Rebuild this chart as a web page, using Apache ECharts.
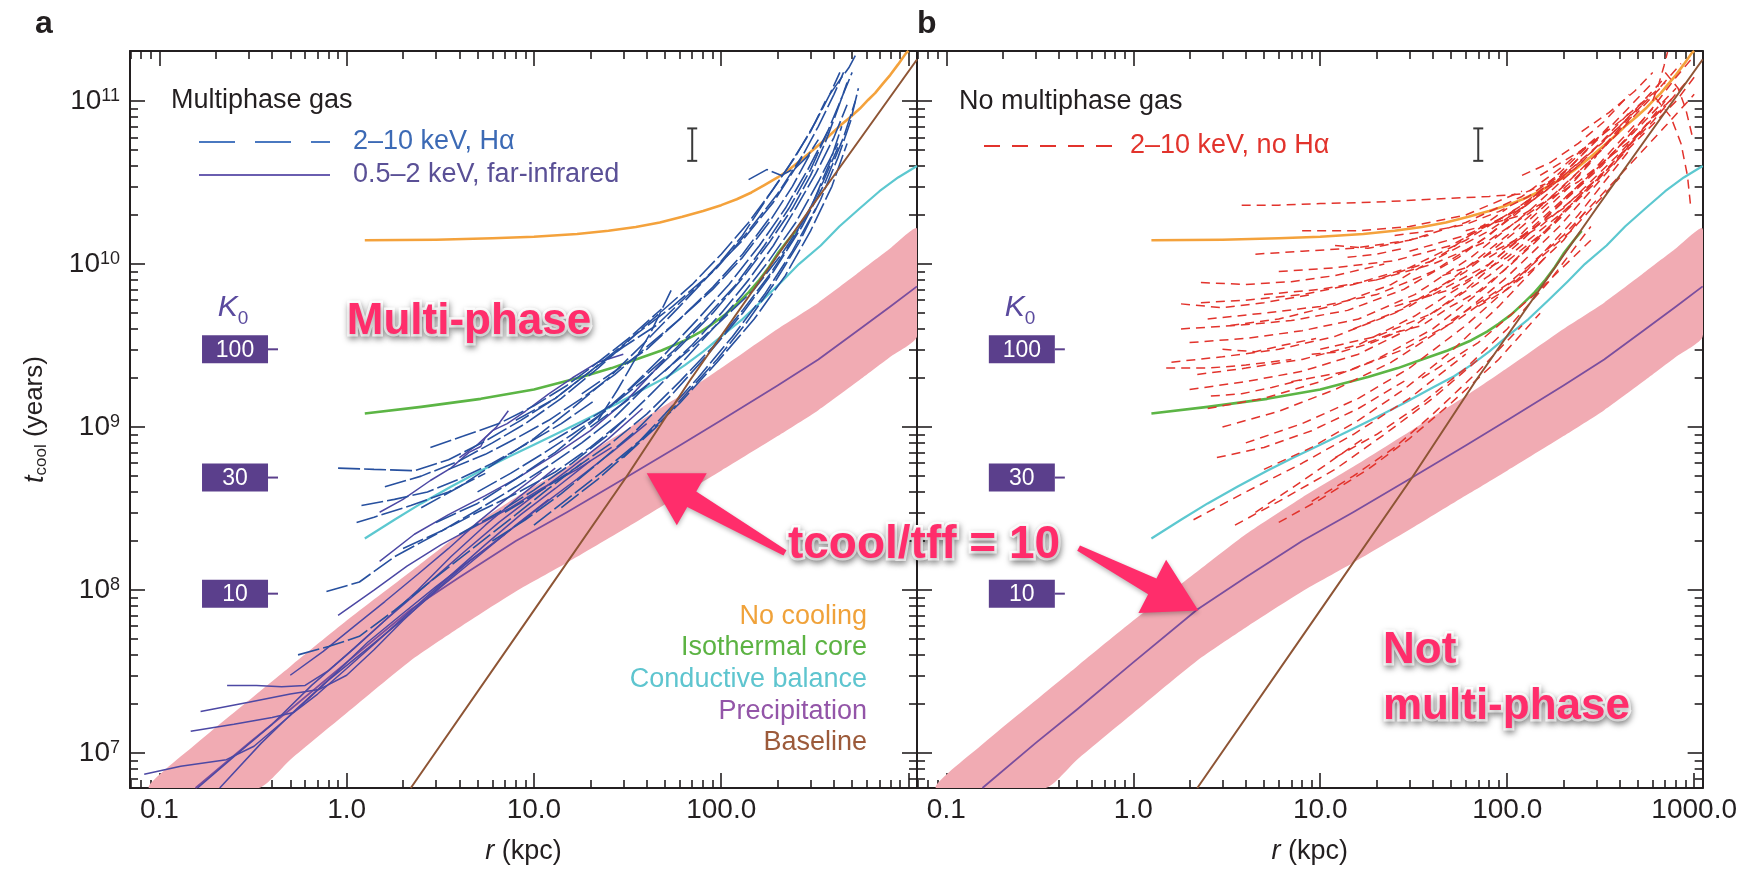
<!DOCTYPE html>
<html>
<head>
<meta charset="utf-8">
<title>Cooling time profiles</title>
<script src="https://cdn.jsdelivr.net/npm/echarts@6.0.0/dist/echarts.min.js"></script>
<style>
  html, body { margin: 0; padding: 0; background: #fff; }
  #chart { width: 1740px; height: 872px; }
</style>
</head>
<body>
<div id="chart"></div>
<script>
// ticks
const xMajor = [0.1, 1, 10, 100, 1000];
const xMinor = [0.07, 0.08, 0.09, 0.2, 0.3, 0.4, 0.5, 0.6, 0.7, 0.8, 0.9, 2, 3, 4, 5, 6, 7, 8, 9,
  20, 30, 40, 50, 60, 70, 80, 90, 200, 300, 400, 500, 600, 700, 800, 900];
const xLabelsA = [0.1, 1, 10, 100];
const xLabelsB = [0.1, 1, 10, 100, 1000];
const yMajor = [1e7, 1e8, 1e9, 1e10, 1e11];
const yMinor = [7e6, 8e6, 9e6, 2e7, 3e7, 4e7, 5e7, 6e7, 7e7, 8e7, 9e7, 2e8, 3e8, 4e8, 5e8, 6e8, 7e8, 8e8, 9e8,
  2e9, 3e9, 4e9, 5e9, 6e9, 7e9, 8e9, 9e9, 2e10, 3e10, 4e10, 5e10, 6e10, 7e10, 8e10, 9e10];

// model curves (r in kpc, t_cool in yr)
const noCooling = [[1.25, 1.40e10], [3, 1.41e10], [6, 1.44e10], [10, 1.47e10], [17, 1.53e10], [25, 1.6e10],
  [35, 1.69e10], [47, 1.8e10], [62, 1.95e10], [80, 2.12e10], [100, 2.3e10], [121, 2.5e10], [145, 2.75e10],
  [170, 3.05e10], [200, 3.4e10], [227, 3.75e10], [270, 4.4e10], [320, 5.2e10], [370, 6.0e10], [427, 7.0e10],
  [490, 8.0e10], [550, 9.0e10], [610, 1.02e11], [663, 1.12e11], [730, 1.28e11], [800, 1.45e11],
  [880, 1.68e11], [970, 1.97e11], [1000, 2.03e11]];
const isothermalCore = [[1.25, 1.21e9], [2.5, 1.33e9], [5.2, 1.49e9], [10, 1.7e9], [18, 2.03e9], [26, 2.3e9],
  [35, 2.6e9], [48, 2.95e9], [64, 3.4e9], [78, 3.85e9], [90, 4.3e9], [105, 4.9e9], [121, 5.7e9], [140, 6.7e9],
  [160, 8.0e9], [180, 9.6e9], [200, 1.16e10], [225, 1.38e10], [250, 1.6e10]];
const conductive = [[1.25, 2.07e8], [1.8, 2.7e8], [2.5, 3.4e8], [3.6, 4.3e8], [5.2, 5.4e8], [7.2, 6.5e8],
  [10, 7.8e8], [14, 9.4e8], [20, 1.15e9], [28, 1.4e9], [40, 1.75e9], [52, 2.05e9], [64, 2.4e9], [80, 2.9e9],
  [100, 3.6e9], [130, 4.6e9], [166, 6.0e9], [210, 7.8e9], [260, 1.0e10], [340, 1.3e10], [427, 1.7e10],
  [550, 2.2e10], [700, 2.8e10], [880, 3.4e10], [1110, 4.0e10]];
const precipitation = [[0.156, 6.1e6], [0.3, 1.15e7], [0.5, 1.85e7], [1, 3.6e7], [2.2, 7.6e7], [4, 1.2e8],
  [8, 2.0e8], [15, 3.0e8], [31, 4.9e8], [60, 7.7e8], [100, 1.1e9], [200, 1.8e9], [330, 2.6e9], [550, 4.0e9],
  [800, 5.5e9], [1110, 7.3e9]];
const bandUpper = [[0.088, 6.1e6], [0.156, 1.13e7], [0.3, 2.1e7], [0.5, 3.4e7], [1, 6.5e7], [2.2, 1.3e8],
  [4, 2.2e8], [8, 3.7e8], [15, 5.7e8], [31, 9.6e8], [60, 1.55e9], [100, 2.3e9], [200, 4.0e9], [330, 5.8e9],
  [550, 9.0e9], [800, 1.25e10], [1110, 1.65e10]];
const bandLower = [[0.34, 6.1e6], [0.5, 9.1e6], [1, 1.76e7], [2.2, 3.7e7], [4, 5.9e7], [8, 9.8e7], [15, 1.47e8],
  [31, 2.4e8], [60, 3.8e8], [100, 5.4e8], [200, 8.8e8], [330, 1.27e9], [550, 1.95e9], [800, 2.7e9], [1110, 3.6e9]];
const baseline = [[2.2, 6.1e6], [10, 7.5e7], [31, 4.9e8], [68, 1.93e9], [300, 2.2e10], [1110, 1.8e11]];

// K0 markers and error bar
const k0Labels = ['100', '30', '10'];
const k0Times = [3.0e9, 4.9e8, 9.5e7];
const errBar = [[70, 4.3e10, 6.8e10]];

// panel a: multiphase gas, 2-10 keV H-alpha (dashed)
const hardLines = [
  [[2.5, 3.2e8], [4, 4.3e8], [6.5, 6.2e8], [10, 8.5e8], [16, 1.3e9], [25, 2.0e9], [40, 3.4e9], [60, 5.5e9], [90, 9e9], [130, 1.5e10], [170, 2.4e10], [230, 4.0e10], [300, 6.5e10], [360, 1.0e11]],
  [[3, 2.6e8], [5, 3.4e8], [8, 4.8e8], [13, 7e8], [20, 1.05e9], [32, 1.7e9], [50, 2.8e9], [75, 4.6e9], [110, 7.5e9], [160, 1.3e10], [220, 2.2e10], [290, 3.8e10], [370, 6.5e10], [440, 1.05e11], [500, 1.5e11]],
  [[4, 2.2e8], [6.5, 3.0e8], [10, 4.1e8], [16, 6e8], [25, 9e8], [40, 1.5e9], [60, 2.4e9], [90, 4e9], [130, 6.5e9], [180, 1.05e10], [250, 1.8e10], [330, 3.2e10], [420, 5.5e10]],
  [[6, 2.0e8], [9, 2.7e8], [14, 3.9e8], [22, 6e8], [35, 9.5e8], [55, 1.6e9], [85, 2.8e9], [130, 5e9], [190, 9e9], [270, 1.7e10], [360, 3.2e10], [450, 6e10], [520, 1.0e11]],
  [[10, 2.5e8], [15, 3.6e8], [24, 5.5e8], [38, 8.5e8], [60, 1.4e9], [95, 2.5e9], [150, 4.6e9], [220, 8.5e9], [300, 1.6e10], [390, 3.0e10], [470, 5.5e10]],
  [[14, 3.2e8], [22, 4.8e8], [34, 7.5e8], [50, 1.2e9], [75, 2e9], [115, 3.6e9], [170, 6.5e9], [240, 1.2e10], [320, 2.2e10]],
  [[1.6, 4.3e8], [2.5, 5.0e8], [4, 6.2e8], [6, 8e8], [9, 1.05e9], [14, 1.5e9], [22, 2.3e9], [35, 3.7e9], [55, 5.5e9], [85, 8.5e9], [130, 1.4e10], [190, 2.4e10], [260, 4.2e10], [330, 7e10], [400, 1.1e11], [450, 1.5e11]],
  [[0.9, 5.6e8], [1.4, 5.5e8], [2.3, 5.4e8], [3.5, 6.3e8], [5.5, 8.2e8], [8.5, 1.1e9], [13, 1.5e9], [20, 2.2e9], [30, 3.1e9], [45, 4.2e9], [65, 6.3e9], [95, 9.5e9], [140, 1.6e10], [200, 2.7e10], [270, 4.6e10]],
  [[0.78, 9.8e7], [1.17, 1.12e8], [1.8, 1.6e8], [3, 2.2e8], [5, 3.1e8], [8, 4.3e8], [12, 5.8e8], [18, 8e8], [27, 1.15e9], [40, 1.8e9]],
  [[0.55, 4.0e7], [0.8, 4.5e7], [1.17, 5.2e7], [1.8, 7.5e7], [3, 1.2e8], [5, 1.9e8], [8, 2.9e8], [12, 4.2e8], [18, 6e8]],
  [[1.13, 2.6e8], [1.4, 2.8e8], [2.2, 3.3e8], [3.5, 4.0e8], [5.5, 5.2e8]],
  [[22, 1.1e9], [28, 1.7e9], [34, 2.5e9], [42, 3.8e9], [54, 6.9e9]],
  [[8, 1.1e9], [13, 1.5e9], [20, 2.2e9], [30, 3.2e9], [45, 4.8e9], [70, 7.5e9], [100, 1.15e10], [140, 1.8e10], [190, 2.9e10], [250, 4.6e10], [320, 7.5e10], [380, 1.1e11], [430, 1.5e11]],
  [[380, 1.1e11], [430, 1.35e11], [480, 1.6e11], [520, 1.9e11]],
  [[140, 3.3e10], [175, 3.8e10], [210, 3.5e10], [250, 3.9e10], [290, 4.6e10], [330, 5.8e10]],
  [[30, 6.5e8], [45, 1.0e9], [65, 1.6e9], [95, 2.6e9], [135, 4.3e9], [190, 7.5e9], [260, 1.35e10], [340, 2.5e10], [420, 4.5e10], [490, 7.5e10], [540, 1.2e11]],
  [[18, 1.6e9], [27, 2.2e9], [40, 3.0e9], [60, 4.6e9], [90, 7e9], [130, 1.1e10], [180, 1.8e10], [240, 3.0e10], [300, 4.8e10]],
  [[50, 2.2e9], [70, 3.2e9], [100, 5e9], [140, 8e9], [190, 1.3e10], [250, 2.2e10], [320, 3.6e10], [400, 6e10], [470, 9.5e10]],
  [[2, 1.8e8], [3.2, 2.3e8], [5, 3.0e8], [8, 3.9e8], [13, 5.3e8], [20, 7.5e8], [30, 1.1e9]],
  [[3.5, 5.5e8], [5.5, 6.8e8], [8, 8.5e8], [12, 1.1e9], [18, 1.5e9], [27, 2.1e9], [40, 3.1e9], [60, 4.6e9], [90, 7.2e9], [130, 1.15e10], [180, 1.9e10]],
  [[5, 4.0e8], [7.5, 5.2e8], [11, 6.8e8], [16, 9e8], [24, 1.25e9], [36, 1.9e9], [55, 2.9e9], [80, 4.5e9], [120, 7.5e9], [170, 1.3e10], [230, 2.2e10], [300, 3.8e10], [370, 6.5e10]],
  [[7, 3.0e8], [11, 4.1e8], [17, 5.7e8], [26, 8e8], [40, 1.2e9], [60, 1.9e9], [90, 3.1e9], [130, 5.2e9], [180, 8.5e9], [240, 1.4e10], [310, 2.4e10], [380, 4.2e10], [440, 7e10]],
  [[2.8, 7.5e8], [4.2, 8.8e8], [6.5, 1.05e9], [10, 1.35e9], [15, 1.8e9], [22, 2.5e9], [32, 3.5e9], [48, 5.3e9]],
  [[12, 8e8], [18, 1.05e9], [27, 1.4e9], [40, 2.0e9], [60, 3.1e9], [90, 5e9], [130, 8.2e9], [180, 1.35e10], [240, 2.2e10], [300, 3.5e10], [360, 5.6e10], [420, 9e10], [470, 1.3e11]],
  [[20, 1.0e9], [30, 1.4e9], [45, 2.0e9], [68, 3.0e9], [100, 4.5e9], [150, 7e9], [210, 1.15e10], [280, 1.9e10], [350, 3.2e10], [420, 5.2e10]],
  [[1.2, 3.3e8], [1.8, 3.6e8], [2.7, 4.0e8], [4, 4.8e8], [6, 6e8], [9, 7.8e8], [14, 1.05e9], [21, 1.45e9]]
];

// panel a: multiphase gas, 0.5-2 keV far-infrared (solid)
const softLines = [
  [[0.083, 7.4e6], [0.13, 8.3e6], [0.228, 9.1e6], [0.32, 1.1e7], [0.5, 1.7e7], [0.8, 2.8e7], [1.3, 4.4e7], [2, 6.6e7], [3.2, 1.05e8], [5, 1.6e8], [8, 2.5e8], [12, 3.6e8]],
  [[0.147, 1.36e7], [0.25, 1.5e7], [0.4, 1.65e7], [0.52, 1.77e7], [0.7, 2.3e7], [1, 3.3e7], [1.5, 5e7], [2.3, 7.8e7], [3.5, 1.2e8], [5.5, 1.9e8], [8.5, 2.9e8], [13, 4.2e8], [20, 6.2e8]],
  [[0.166, 1.8e7], [0.3, 2.05e7], [0.5, 2.3e7], [0.71, 2.45e7], [1, 3.0e7], [1.4, 4.3e7], [2, 6.5e7], [3, 1.0e8], [4.5, 1.5e8], [7, 2.2e8]],
  [[0.23, 2.6e7], [0.33, 2.6e7], [0.45, 2.55e7], [0.6, 2.6e7], [0.8, 3.2e7], [1.1, 4.4e7], [1.6, 6.5e7], [2.4, 1.0e8], [3.6, 1.6e8], [5.5, 2.5e8], [8.5, 3.8e8], [13, 5.6e8]],
  [[0.16, 6.1e6], [0.25, 9.5e6], [0.4, 1.5e7], [0.65, 2.6e7], [1, 4.0e7], [1.6, 6.5e7], [2.6, 1.05e8], [4.2, 1.7e8], [6.5, 2.6e8], [10, 3.8e8], [16, 5.7e8], [25, 8.5e8], [38, 1.3e9]],
  [[0.21, 6.1e6], [0.35, 1.15e7], [0.55, 1.9e7], [0.85, 3.0e7], [1.3, 4.8e7], [2, 7.2e7], [3, 1.05e8], [4.5, 1.5e8], [7, 2.2e8], [11, 3.3e8], [17, 4.8e8], [26, 7e8], [40, 1.05e9]],
  [[0.5, 3.0e7], [0.75, 4.2e7], [1.1, 6e7], [1.6, 8.5e7], [2.4, 1.25e8], [3.5, 1.8e8], [5, 2.6e8], [7.5, 3.8e8], [11, 5.3e8]],
  [[1.5, 3.0e8], [2, 3.6e8], [2.8, 4.7e8], [3.6, 5.6e8], [4.5, 7e8], [5.2, 7.6e8], [5.5, 8.6e8], [6.3, 1.0e9], [7.3, 1.26e9]],
  [[4, 6.5e8], [5, 7.8e8], [6, 9.5e8], [7.2, 1.05e9], [9, 1.25e9], [12, 1.6e9], [16, 2.0e9], [22, 2.5e9], [30, 2.8e9]],
  [[1.5, 1.5e8], [2.3, 2.2e8], [3.5, 2.9e8], [5.5, 3.8e8], [8.5, 5.0e8], [13, 6.8e8], [20, 9.5e8], [32, 1.5e9], [50, 2.6e9]],
  [[0.9, 7.0e7], [1.4, 1.0e8], [2.1, 1.4e8], [3.2, 1.9e8], [5, 2.5e8], [7.5, 3.2e8], [11, 4.2e8], [17, 5.5e8], [26, 7.5e8]]
];

// panel b: no multiphase gas, 2-10 keV, no H-alpha (dashed)
const noMultiLines = [
  [[3.8, 2.3e10], [6, 2.3e10], [10, 2.35e10], [20, 2.4e10], [40, 2.5e10], [80, 2.6e10], [120, 2.7e10], [160, 3.1e10]],
  [[4.5, 1.15e10], [8, 1.2e10], [15, 1.25e10], [30, 1.4e10], [60, 1.8e10], [120, 2.6e10], [200, 4.0e10], [300, 6.0e10]],
  [[2.3, 5.8e9], [4, 6.0e9], [8, 6.5e9], [15, 7.5e9], [30, 9.5e9], [60, 1.4e10], [120, 2.3e10], [220, 4.0e10], [350, 7.0e10]],
  [[2.5, 4.6e9], [5, 5.0e9], [10, 5.5e9], [20, 6.5e9], [40, 9.0e9], [80, 1.5e10], [150, 2.8e10], [280, 5.5e10]],
  [[1.8, 4.0e9], [3.5, 4.2e9], [7, 4.5e9], [14, 5.2e9], [28, 7.0e9], [55, 1.1e10], [110, 2.0e10], [200, 3.6e10], [350, 6.8e10], [600, 1.3e11]],
  [[2, 3.3e9], [4, 3.5e9], [8, 3.9e9], [16, 4.6e9], [32, 6.5e9], [64, 1.1e10], [130, 2.1e10], [250, 4.2e10]],
  [[1.6, 2.5e9], [3, 2.7e9], [6, 3.0e9], [12, 3.6e9], [25, 5.0e9], [50, 8.0e9], [100, 1.5e10], [200, 3.0e10], [400, 6.5e10], [700, 1.3e11]],
  [[2.2, 2.1e9], [4, 2.3e9], [8, 2.6e9], [16, 3.2e9], [32, 4.8e9], [64, 8.0e9], [130, 1.6e10], [260, 3.3e10], [500, 7.5e10]],
  [[2, 1.7e9], [4, 1.9e9], [8, 2.2e9], [16, 2.8e9], [30, 4.0e9], [60, 7.0e9], [120, 1.4e10], [240, 3.0e10], [480, 6.5e10], [800, 1.2e11]],
  [[2.5, 1.3e9], [5, 1.5e9], [10, 1.9e9], [20, 2.6e9], [40, 4.0e9], [80, 7.5e9], [160, 1.6e10], [320, 3.6e10]],
  [[3, 1.0e9], [6, 1.25e9], [12, 1.7e9], [24, 2.5e9], [48, 4.2e9], [96, 8.0e9], [190, 1.7e10], [380, 4.2e10], [700, 1.0e11]],
  [[4, 8.0e8], [8, 1.05e9], [16, 1.5e9], [30, 2.3e9], [60, 4.2e9], [120, 8.5e9], [240, 2.0e10], [450, 5.0e10]],
  [[2.1, 2.7e8], [4, 4.0e8], [8, 6.0e8], [15, 9.0e8], [30, 1.5e9], [60, 2.8e9]],
  [[3.5, 2.5e8], [6, 3.5e8], [12, 5.5e8], [22, 9.0e8], [40, 1.5e9], [70, 2.6e9]],
  [[6, 2.6e8], [10, 3.6e8], [18, 5.5e8], [30, 8.5e8], [50, 1.4e9], [90, 2.6e9], [150, 5.0e9]],
  [[9, 3.5e8], [15, 5.0e8], [25, 7.5e8], [40, 1.2e9], [70, 2.2e9], [120, 4.2e9]],
  [[5, 5.5e8], [9, 7.5e8], [16, 1.1e9], [28, 1.7e9], [50, 2.9e9], [90, 5.5e9], [160, 1.1e10]],
  [[2.8, 6.5e8], [5, 7.5e8], [9, 9.5e8], [16, 1.3e9], [30, 2.0e9]],
  [[12, 6.5e8], [20, 9.0e8], [35, 1.4e9], [60, 2.3e9], [100, 4.0e9], [170, 8.0e9], [280, 1.7e10]],
  [[7, 1.9e9], [14, 2.2e9], [28, 3.0e9], [55, 4.6e9], [110, 8.0e9], [220, 1.6e10], [400, 3.4e10]],
  [[10, 3.0e9], [20, 3.6e9], [40, 5.0e9], [80, 8.5e9], [160, 1.6e10], [300, 3.2e10], [550, 7.0e10]],
  [[5, 6.5e9], [10, 7.0e9], [20, 8.0e9], [40, 1.05e10], [80, 1.6e10], [160, 2.8e10], [320, 5.5e10], [600, 1.1e11]],
  [[3.3, 4.2e9], [6, 4.6e9], [12, 5.6e9], [24, 7.5e9], [48, 1.2e10], [100, 2.2e10]],
  [[6, 9.0e9], [12, 9.5e9], [25, 1.05e10], [50, 1.3e10], [100, 2.0e10], [200, 3.5e10], [400, 7.0e10], [700, 1.4e11]],
  [[25, 5.5e9], [50, 7.0e9], [100, 1.1e10], [200, 2.1e10], [400, 4.5e10], [800, 1.0e11], [1000, 1.4e11]],
  [[50, 4.5e9], [100, 7.5e9], [200, 1.5e10], [400, 3.5e10], [700, 7.0e10], [1000, 1.1e11]],
  [[80, 1.1e10], [150, 1.7e10], [300, 3.3e10], [600, 7.5e10], [900, 1.3e11]],
  [[150, 3.5e10], [250, 5.0e10], [400, 7.5e10], [650, 1.2e11], [850, 1.7e11]],
  [[200, 2.5e10], [350, 4.5e10], [550, 8.0e10], [800, 1.4e11], [1000, 1.9e11]],
  [[620, 1.05e11], [750, 8.0e10], [850, 5.5e10], [920, 3.5e10], [960, 2.2e10]],
  [[700, 1.5e11], [820, 1.2e11], [900, 9.0e10], [980, 6.0e10]],
  [[600, 1.0e11], [650, 1.3e11], [690, 1.65e11], [720, 2.0e11]],
  [[1.5, 2.3e9], [2.5, 2.3e9], [4, 2.4e9], [7, 2.6e9]],
  [[1.8, 5.7e9], [3, 5.4e9], [5, 5.8e9], [9, 6.5e9]],
  [[2.3, 7.7e9], [4, 7.5e9], [7, 7.8e9], [12, 8.5e9], [22, 1.0e10]],
  [[15, 4.0e9], [30, 5.5e9], [60, 9.0e9], [120, 1.7e10], [240, 3.5e10], [450, 8.0e10]],
  [[20, 8.0e9], [40, 1.0e10], [80, 1.4e10], [160, 2.4e10], [320, 5.0e10], [550, 1.0e11]],
  [[30, 1.2e10], [60, 1.5e10], [120, 2.2e10], [240, 4.0e10], [450, 8.5e10]],
  [[40, 6.5e9], [80, 1.0e10], [160, 1.9e10], [320, 4.0e10], [600, 9.0e10]],
  [[60, 1.6e10], [120, 2.0e10], [240, 3.2e10], [480, 6.0e10], [800, 1.1e11]],
  [[100, 1.3e10], [200, 2.2e10], [400, 4.8e10], [700, 9.5e10]],
  [[35, 2.0e9], [70, 3.3e9], [140, 6.5e9], [280, 1.4e10]],
  [[4.5, 3.0e8], [7, 4.2e8], [11, 6.0e8], [17, 8.5e8]],
  [[8, 1.6e10], [16, 1.6e10], [30, 1.7e10], [60, 2.0e10], [120, 2.8e10]],
  [[18, 3.3e9], [25, 3.8e9], [35, 4.2e9], [50, 5.5e9], [70, 6.8e9], [100, 9.5e9], [140, 1.35e10], [200, 2.0e10]],
  [[45, 8.5e9], [60, 9.5e9], [85, 1.2e10], [110, 1.4e10], [150, 2.0e10], [210, 2.9e10], [300, 4.6e10]],
  [[25, 1.5e10], [40, 1.6e10], [60, 1.75e10], [90, 2.1e10], [130, 2.6e10], [180, 3.4e10]],
  [[70, 5.5e9], [100, 7.0e9], [140, 9.5e9], [200, 1.4e10], [270, 2.2e10]],
  [[12, 1.3e10], [18, 1.25e10], [26, 1.35e10], [38, 1.5e10]],
  [[120, 3.5e10], [170, 4.2e10], [240, 5.5e10], [330, 7.5e10], [450, 1.1e11]],
  [[250, 6.5e10], [350, 8.5e10], [480, 1.15e11], [600, 1.5e11]],
  [[9, 2.8e9], [13, 2.9e9], [19, 3.3e9], [27, 3.9e9]],
  [[3, 3.0e9], [4.5, 2.9e9], [6.5, 3.2e9], [9.5, 3.5e9]],
  [[2.6, 1.55e9], [3.8, 1.6e9], [5.5, 1.75e9], [8, 1.95e9]],
  [[14, 1.1e10], [20, 1.15e10], [28, 1.25e10]]
];

// annotation anchors (data coords): tail r, tail t, tip r, tip t
const arrowA = [[219, 1.69e8, 40, 5.2e8]];
const arrowB = [[0.51, 1.81e8, 2.23, 7.5e7]];

const X_MIN = 0.0697, X_MAX = 1110, Y_MIN = 6.1e6, Y_MAX = 2.03e11;
const FONT = '"Liberation Sans", Arial, Helvetica, sans-serif';
const INK = '#231f20';
const C = {
  orange: '#f4a23c', green: '#5cb545', cyan: '#5cc8d0', purple: '#7a4e9e', brown: '#8e5535',
  band: '#f1abb3', hard: '#27509f', soft: '#4c48a4', red: '#e2332c', k0: '#5b3f8c', hot: '#ff2d6b'
};
const AXIS_LINE = { color: INK, width: 2 };
const TICK = { color: INK, width: 1.6 };
const K0_R = 0.2535;

function xAxes(gi, labelVals) {
  const base = { type: 'log', logBase: 10, gridIndex: gi, min: X_MIN, max: X_MAX,
    splitLine: { show: false }, minorTick: { show: false }, axisPointer: { show: false } };
  return [
    Object.assign({}, base, { position: 'bottom',
      axisLine: { onZero: false, lineStyle: AXIS_LINE },
      axisTick: { inside: true, length: 15, customValues: xMajor, lineStyle: TICK },
      axisLabel: { customValues: labelVals, formatter: v => v.toFixed(1), margin: 8,
        color: INK, fontSize: 28, fontFamily: FONT },
      name: '{i|r} (kpc)', nameLocation: 'middle', nameGap: 50,
      nameTextStyle: { color: INK, fontSize: 27, fontFamily: FONT,
        rich: { i: { fontStyle: 'italic', fontSize: 27, fontFamily: FONT, color: INK } } } }),
    Object.assign({}, base, { position: 'bottom', axisLine: { show: false, onZero: false },
      axisTick: { inside: true, length: 8, customValues: xMinor, lineStyle: TICK }, axisLabel: { show: false } }),
    Object.assign({}, base, { position: 'top', axisLine: { onZero: false, lineStyle: AXIS_LINE },
      axisTick: { inside: true, length: 15, customValues: xMajor, lineStyle: TICK }, axisLabel: { show: false } }),
    Object.assign({}, base, { position: 'top', axisLine: { show: false, onZero: false },
      axisTick: { inside: true, length: 8, customValues: xMinor, lineStyle: TICK }, axisLabel: { show: false } })
  ];
}

function yAxes(gi, withLabels) {
  const base = { type: 'log', logBase: 10, gridIndex: gi, min: Y_MIN, max: Y_MAX,
    splitLine: { show: false }, minorTick: { show: false }, axisPointer: { show: false } };
  const left = Object.assign({}, base, { position: 'left',
    axisLine: { onZero: false, lineStyle: AXIS_LINE },
    axisTick: { inside: true, length: 15, customValues: yMajor, lineStyle: TICK },
    axisLabel: withLabels ? {
      customValues: yMajor, margin: 10,
      formatter: v => '{b|10}{s|' + Math.round(Math.log10(v)) + '}',
      rich: {
        b: { fontSize: 28, fontFamily: FONT, color: INK, lineHeight: 28 },
        s: { fontSize: 18, fontFamily: FONT, color: INK, lineHeight: 28, verticalAlign: 'top' }
      } } : { show: false }
  });
  if (withLabels) {
    Object.assign(left, {
      name: '{i|t}{s|cool} (years)', nameLocation: 'middle', nameGap: 80,
      nameTextStyle: { color: INK, fontSize: 26, fontFamily: FONT,
        rich: {
          i: { fontStyle: 'italic', fontSize: 27, fontFamily: FONT, color: INK, lineHeight: 30 },
          s: { fontSize: 17, fontFamily: FONT, color: INK, lineHeight: 30, verticalAlign: 'bottom' }
        } }
    });
  }
  return [
    left,
    Object.assign({}, base, { position: 'left', axisLine: { show: false, onZero: false },
      axisTick: { inside: true, length: 8, customValues: yMinor, lineStyle: TICK }, axisLabel: { show: false } }),
    Object.assign({}, base, { position: 'right', axisLine: { onZero: false, lineStyle: AXIS_LINE },
      axisTick: { inside: true, length: 15, customValues: yMajor, lineStyle: TICK }, axisLabel: { show: false } }),
    Object.assign({}, base, { position: 'right', axisLine: { show: false, onZero: false },
      axisTick: { inside: true, length: 8, customValues: yMinor, lineStyle: TICK }, axisLabel: { show: false } })
  ];
}

function onGrid(gi, s) {
  return Object.assign({ xAxisIndex: gi * 4, yAxisIndex: gi * 4, silent: true, animation: false }, s);
}

function curve(gi, data, color, width, z) {
  return onGrid(gi, { type: 'line', data: data, symbol: 'none', smooth: false,
    lineStyle: { color: color, width: width, join: 'round' }, z: z });
}

function profiles(gi, lines, color, dash, width) {
  return lines.map(pts => onGrid(gi, { type: 'line', data: pts, symbol: 'none',
    lineStyle: { color: color, width: width, type: dash }, z: 4 }));
}

function band(gi) {
  return onGrid(gi, { type: 'custom', clip: true, z: 1, data: [bandUpper[0]],
    renderItem: (params, api) => {
      const pts = bandUpper.concat(bandLower.slice().reverse()).map(p => api.coord(p));
      return { type: 'polygon', shape: { points: pts, smooth: 0.2 }, style: { fill: C.band } };
    } });
}

function errorBar(gi) {
  return onGrid(gi, { type: 'custom', z: 6, data: errBar, encode: { x: 0, y: [1, 2] },
    renderItem: (params, api) => {
      const lo = api.coord([api.value(0), api.value(1)]);
      const hi = api.coord([api.value(0), api.value(2)]);
      const st = { stroke: '#3a3a3a', lineWidth: 2 };
      return { type: 'group', children: [
        { type: 'line', shape: { x1: lo[0], y1: lo[1], x2: hi[0], y2: hi[1] }, style: st },
        { type: 'line', shape: { x1: lo[0] - 5, y1: lo[1], x2: lo[0] + 5, y2: lo[1] }, style: st },
        { type: 'line', shape: { x1: hi[0] - 5, y1: hi[1], x2: hi[0] + 5, y2: hi[1] }, style: st }
      ] };
    } });
}

function k0Boxes(gi) {
  return onGrid(gi, { type: 'custom', z: 6, data: k0Times.map((t, i) => [K0_R, t, i]),
    renderItem: (params, api) => {
      const c = api.coord([api.value(0), api.value(1)]);
      const txt = k0Labels[api.value(2)];
      return { type: 'group', children: [
        { type: 'rect', shape: { x: c[0] - 33, y: c[1] - 14, width: 66, height: 28 }, style: { fill: C.k0 } },
        { type: 'line', shape: { x1: c[0] + 33, y1: c[1], x2: c[0] + 43, y2: c[1] }, style: { stroke: C.k0, lineWidth: 2 } },
        { type: 'text', style: { text: txt, x: c[0], y: c[1] + 1, fill: '#fff', font: '23px ' + FONT,
          align: 'center', verticalAlign: 'middle', textAlign: 'center', textVerticalAlign: 'middle' } }
      ] };
    } });
}

function arrow(gi, data) {
  return onGrid(gi, { type: 'custom', z: 20, data: data, encode: { x: [0, 2], y: [1, 3] },
    renderItem: (params, api) => {
      const a = api.coord([api.value(0), api.value(1)]);
      const b = api.coord([api.value(2), api.value(3)]);
      const dx = b[0] - a[0], dy = b[1] - a[1], L = Math.hypot(dx, dy);
      const ux = dx / L, uy = dy / L, nx = -uy, ny = ux;
      const headLen = 52, headW = 30, neckW = 9, tailW = 3;
      const bx = b[0] - ux * headLen, by = b[1] - uy * headLen;
      const pts = [
        [a[0] + nx * tailW, a[1] + ny * tailW], [bx + nx * neckW, by + ny * neckW],
        [bx + nx * headW, by + ny * headW], [b[0], b[1]],
        [bx - nx * headW, by - ny * headW], [bx - nx * neckW, by - ny * neckW],
        [a[0] - nx * tailW, a[1] - ny * tailW]
      ];
      return { type: 'polygon', shape: { points: pts },
        style: { fill: C.hot, shadowBlur: 5, shadowColor: 'rgba(0,0,0,0.3)', shadowOffsetY: 2 } };
    } });
}

function txt(x, y, text, fill, font, align, extra) {
  return { type: 'text', x: x, y: y, z: 50, silent: true,
    style: Object.assign({ text: text, fill: fill, font: font,
      align: align || 'left', textAlign: align || 'left', verticalAlign: 'middle', textVerticalAlign: 'middle' }, extra || {}) };
}
function hline(x1, x2, y, stroke, dash) {
  return { type: 'line', z: 50, silent: true, shape: { x1: x1, y1: y, x2: x2, y2: y },
    style: { stroke: stroke, lineWidth: 2, lineDash: dash || null } };
}

const hotStyle = { stroke: '#fff', lineWidth: 5, textShadowBlur: 6, textShadowColor: 'rgba(0,0,0,0.35)', textShadowOffsetX: 1, textShadowOffsetY: 3 };
const k0Rich = { rich: {
  k: { fontStyle: 'italic', fontSize: 30, fontFamily: FONT, color: '#5a4a9e' },
  s: { fontSize: 19, fontFamily: FONT, color: '#5a4a9e', verticalAlign: 'bottom', lineHeight: 40 } } };

const series = [];
[0, 1].forEach(gi => {
  series.push(band(gi));
  series.push(curve(gi, isothermalCore, C.green, 2.6, 2));
  series.push(curve(gi, conductive, C.cyan, 2.2, 2));
  series.push(curve(gi, noCooling, C.orange, 2.6, 2));
  series.push(curve(gi, precipitation, C.purple, 1.8, 2));
});
series.push(...profiles(0, softLines, C.soft, 'solid', 1.5));
series.push(...profiles(0, hardLines, C.hard, [22, 4], 1.6));
series.push(...profiles(1, noMultiLines, C.red, [9, 6], 1.5));
[0, 1].forEach(gi => {
  series.push(curve(gi, baseline, C.brown, 2, 5));
  series.push(errorBar(gi));
  series.push(k0Boxes(gi));
});
series.push(arrow(0, arrowA));
series.push(arrow(1, arrowB));

const option = {
  backgroundColor: '#fff',
  animation: false,
  grid: [
    { left: 130, top: 51, width: 787, height: 737 },
    { left: 917, top: 51, width: 788, height: 737 }
  ],
  xAxis: xAxes(0, xLabelsA).concat(xAxes(1, xLabelsB)),
  yAxis: yAxes(0, true).concat(yAxes(1, false)),
  series: series,
  graphic: [
    txt(35, 24, 'a', INK, 'bold 32px ' + FONT),
    txt(917, 24, 'b', INK, 'bold 32px ' + FONT),
    txt(171, 101, 'Multiphase gas', INK, '27px ' + FONT),
    hline(199, 330, 142, '#4a78c0', [36, 20]),
    txt(353, 142, '2–10 keV, Hα', '#3c6ab5', '27px ' + FONT),
    hline(199, 330, 175, '#6a5eb0'),
    txt(353, 175, '0.5–2 keV, far-infrared', '#5a5096', '27px ' + FONT),
    txt(959, 102, 'No multiphase gas', INK, '27px ' + FONT),
    hline(984, 1120, 146, C.red, [16, 12]),
    txt(1130, 146, '2–10 keV, no Hα', C.red, '27px ' + FONT),
    txt(233, 308, '{k|K}{s|0}', '#5a4a9e', '30px ' + FONT, 'center', k0Rich),
    txt(1020, 308, '{k|K}{s|0}', '#5a4a9e', '30px ' + FONT, 'center', k0Rich),
    txt(867, 617, 'No cooling', '#f0a23a', '27px ' + FONT, 'right'),
    txt(867, 648, 'Isothermal core', '#5cb343', '27px ' + FONT, 'right'),
    txt(867, 680, 'Conductive balance', '#5ec5cf', '27px ' + FONT, 'right'),
    txt(867, 712, 'Precipitation', '#9355a8', '27px ' + FONT, 'right'),
    txt(867, 743, 'Baseline', '#9c5a3a', '27px ' + FONT, 'right'),
    txt(469, 322, 'Multi-phase', C.hot, 'bold 44px ' + FONT, 'center', hotStyle),
    txt(924, 545, 'tcool/tff = 10', C.hot, 'bold 46px ' + FONT, 'center', hotStyle),
    txt(1383, 651, 'Not', C.hot, 'bold 44px ' + FONT, 'left', hotStyle),
    txt(1383, 707, 'multi-phase', C.hot, 'bold 44px ' + FONT, 'left', hotStyle)
  ]
};

const chart = echarts.init(document.getElementById('chart'));
chart.setOption(option);
</script>
</body>
</html>
